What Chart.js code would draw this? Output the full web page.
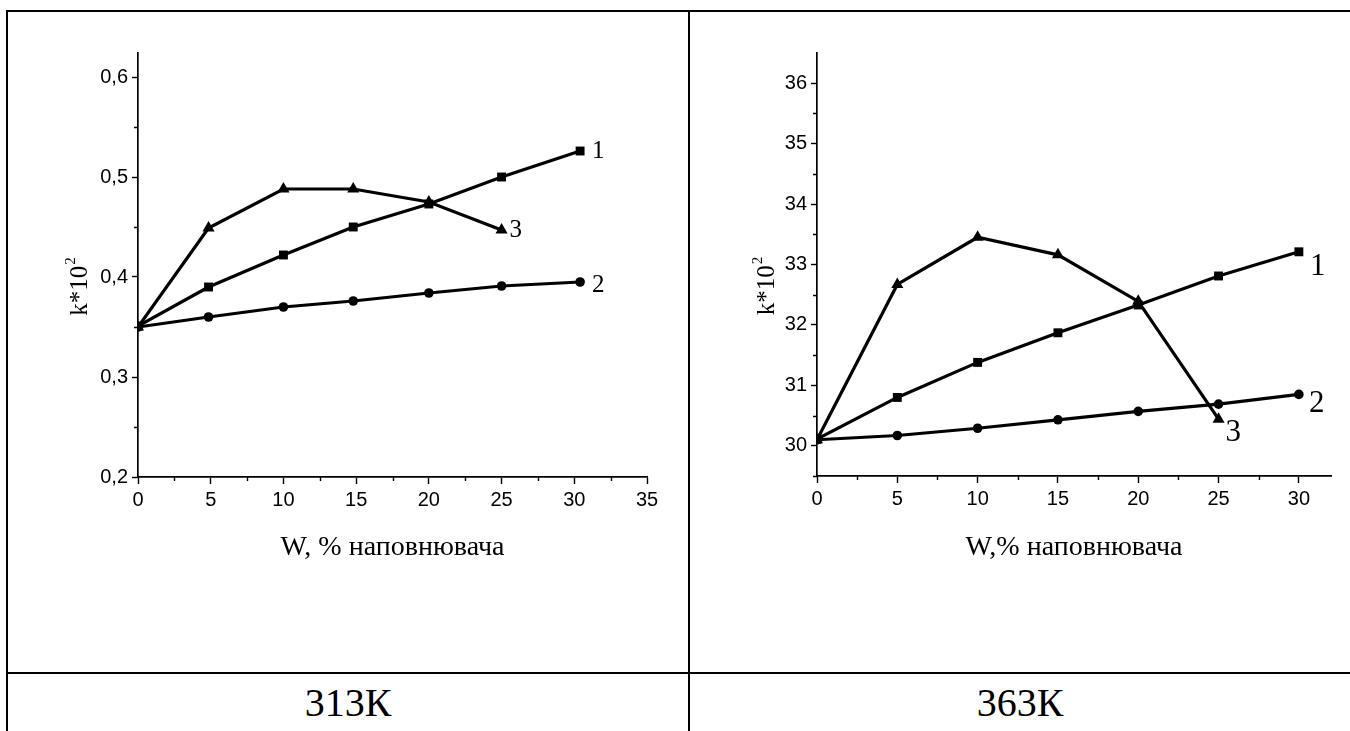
<!DOCTYPE html>
<html>
<head>
<meta charset="utf-8">
<script src="https://cdn.jsdelivr.net/npm/chart.js@4/dist/chart.umd.min.js"></script>
<style>
  html, body { margin: 0; padding: 0; background: #fff; width: 1350px; height: 731px; overflow: hidden; }
  .rule { position: absolute; background: #000; }
  .cell { position: absolute; }
  .caption { position: absolute; font-family: "Liberation Serif", "Times New Roman", serif; font-size: 40px; text-align: center; color: #000; }
</style>
</head>
<body>
<!-- table lines -->
<div class="rule" style="left:6px;top:10px;width:1344px;height:2px"></div>
<div class="rule" style="left:6px;top:10px;width:2px;height:721px"></div>
<div class="rule" style="left:688px;top:10px;width:2px;height:721px"></div>
<div class="rule" style="left:6px;top:672px;width:1344px;height:2px"></div>

<div class="cell" style="left:9px;top:13px;width:678px;height:658px"><canvas id="chart313"></canvas></div>
<div class="cell" style="left:691px;top:13px;width:659px;height:658px"><canvas id="chart363"></canvas></div>

<div class="caption" style="left:8px;top:674px;width:680px;line-height:57px">313К</div>
<div class="caption" style="left:690px;top:674px;width:660px;line-height:57px">363К</div>

<script>
// 313 K
const w313 = [0, 4.85, 10, 14.8, 20, 25, 30.4];
const k313_1 = [0.351, 0.390, 0.422, 0.450, 0.473, 0.500, 0.526];
const k313_2 = [0.350, 0.360, 0.370, 0.376, 0.384, 0.391, 0.395];
const k313_3 = [0.350, 0.449, 0.488, 0.488, 0.475, 0.447];
const xTicks313 = [0, 5, 10, 15, 20, 25, 30, 35];
const yTicks313 = [0.2, 0.3, 0.4, 0.5, 0.6];

// 363 K
const w363 = [0, 5, 10, 15, 20, 25, 30];
const k363_1 = [30.11, 30.80, 31.38, 31.87, 32.33, 32.81, 33.21];
const k363_2 = [30.10, 30.17, 30.29, 30.43, 30.57, 30.69, 30.85];
const k363_3 = [30.10, 32.67, 33.45, 33.16, 32.39, 30.44];
const xTicks363 = [0, 5, 10, 15, 20, 25, 30];
const yTicks363 = [30, 31, 32, 33, 34, 35, 36];

const curveNames = ['1', '2', '3'];

const SANS = '"Liberation Sans", Arial, sans-serif';
const SERIF = '"Liberation Serif", "Times New Roman", serif';

function pts(xs, ys) {
  return ys.map((y, i) => ({ x: xs[i], y }));
}

function series(xs, ys1, ys2, ys3) {
  const base = {
    borderColor: '#000',
    borderWidth: 3.2,
    backgroundColor: '#000',
    pointBackgroundColor: '#000',
    pointBorderColor: '#000',
    pointBorderWidth: 0,
    tension: 0
  };
  return [
    { ...base, label: curveNames[0], data: pts(xs, ys1), pointStyle: 'rect', pointRadius: 6.3 },
    { ...base, label: curveNames[1], data: pts(xs, ys2), pointStyle: 'circle', pointRadius: 4.8 },
    { ...base, label: curveNames[2], data: pts(xs, ys3), pointStyle: 'triangle', pointRadius: 7 }
  ];
}

// minor ticks, rotated y caption and curve numbers
const extras = {
  id: 'extras',
  afterDraw(chart, args, o) {
    const { ctx, chartArea } = chart;
    const xs = chart.scales.x, ys = chart.scales.y;
    ctx.save();
    ctx.strokeStyle = '#000';
    ctx.lineWidth = 1.4;
    ctx.beginPath();
    for (let v = o.xMinor[0]; v < xs.max; v += o.xMinor[1]) {
      const px = Math.round(xs.getPixelForValue(v)) + 0.5;
      ctx.moveTo(px, chartArea.bottom);
      ctx.lineTo(px, chartArea.bottom + 4);
    }
    for (let v = o.yMinor[0]; v < ys.max - 1e-9; v += o.yMinor[1]) {
      const py = Math.round(ys.getPixelForValue(v)) + 0.5;
      ctx.moveTo(chartArea.left, py);
      ctx.lineTo(chartArea.left - 4, py);
    }
    ctx.stroke();

    // y caption with raised exponent
    ctx.fillStyle = '#000';
    ctx.translate(o.yCaption.x, (chartArea.top + chartArea.bottom) / 2 + o.yCaption.dy);
    ctx.rotate(-Math.PI / 2);
    ctx.textBaseline = 'alphabetic';
    ctx.font = '25px ' + SERIF;
    const base = 'k*10';
    const bw = ctx.measureText(base).width;
    ctx.font = '15px ' + SERIF;
    const ew = ctx.measureText('2').width;
    const start = -(bw + ew) / 2;
    ctx.font = '25px ' + SERIF;
    ctx.textAlign = 'left';
    ctx.fillText(base, start, 8);
    ctx.font = '15px ' + SERIF;
    ctx.fillText('2', start + bw + 1, -4);
    ctx.setTransform(chart.currentDevicePixelRatio, 0, 0, chart.currentDevicePixelRatio, 0, 0);

    // curve numbers at the last point of each curve
    ctx.font = o.labelSize + 'px ' + SERIF;
    ctx.textAlign = 'left';
    ctx.textBaseline = 'middle';
    chart.data.datasets.forEach((ds, i) => {
      const meta = chart.getDatasetMeta(i);
      const last = meta.data[meta.data.length - 1];
      const off = o.labelOffsets[i];
      ctx.fillText(ds.label, last.x + off[0], last.y + off[1]);
    });
    ctx.restore();
  }
};

function makeChart(id, cfg) {
  return new Chart(document.getElementById(id), {
    type: 'line',
    data: { datasets: series(cfg.xs, cfg.y1, cfg.y2, cfg.y3) },
    options: {
      responsive: true,
      maintainAspectRatio: false,
      animation: false,
      layout: { autoPadding: false, padding: { top: 40, right: cfg.padRight, left: 0, bottom: 0 } },
      plugins: {
        legend: { display: false },
        tooltip: { enabled: false },
        extras: cfg.extras
      },
      scales: {
        x: {
          type: 'linear',
          min: cfg.xMin, max: cfg.xMax,
          afterBuildTicks: s => { s.ticks = cfg.xTicks.map(v => ({ value: v })); },
          afterFit: s => { s.height = cfg.xHeight; },
          grid: { display: true, drawOnChartArea: false, drawTicks: true, tickLength: 7, tickWidth: 1.4, tickColor: '#000' },
          border: { display: true, color: '#000', width: 1.7 },
          ticks: { color: '#000', font: { family: SANS, size: 20 }, padding: 4, maxRotation: 0, autoSkip: false },
          title: { display: true, text: cfg.xTitle, color: '#000', font: { family: SERIF, size: 28 }, padding: { top: 0, bottom: 107 } }
        },
        y: {
          type: 'linear',
          min: cfg.yMin, max: cfg.yMax,
          afterBuildTicks: s => { s.ticks = cfg.yTicks.map(v => ({ value: v })); },
          afterFit: s => { s.width = cfg.yWidth; },
          grid: { display: true, drawOnChartArea: false, drawTicks: true, tickLength: 6, tickWidth: 1.4, tickColor: '#000' },
          border: { display: true, color: '#000', width: 1.7 },
          ticks: { color: '#000', font: { family: SANS, size: 20 }, padding: 4, autoSkip: false, callback: cfg.yFormat }
        }
      }
    },
    plugins: [extras]
  });
}

makeChart('chart313', {
  xs: w313, y1: k313_1, y2: k313_2, y3: k313_3,
  xMin: 0, xMax: 35, xTicks: xTicks313,
  yMin: 0.2, yMax: 0.624, yTicks: yTicks313,
  yFormat: v => v.toFixed(1).replace('.', ','),
  xTitle: 'W, % наповнювача',
  padRight: 40, xHeight: 194, yWidth: 129,
  extras: {
    xMinor: [2.5, 5], yMinor: [0.25, 0.1],
    yCaption: { x: 70, dy: 22 },
    labelSize: 25,
    labelOffsets: [[12, 0], [12, 3], [8, 0]]
  }
});

makeChart('chart363', {
  xs: w363, y1: k363_1, y2: k363_2, y3: k363_3,
  xMin: 0, xMax: 32, xTicks: xTicks363,
  yMin: 29.5, yMax: 36.5, yTicks: yTicks363,
  yFormat: v => String(v),
  xTitle: 'W,% наповнювача',
  padRight: 19, xHeight: 195, yWidth: 126,
  extras: {
    xMinor: [2.5, 5], yMinor: [29.5, 1],
    yCaption: { x: 75, dy: 22 },
    labelSize: 31,
    labelOffsets: [[11, 15], [10, 9], [7, 14]]
  }
});
</script>
</body>
</html>
